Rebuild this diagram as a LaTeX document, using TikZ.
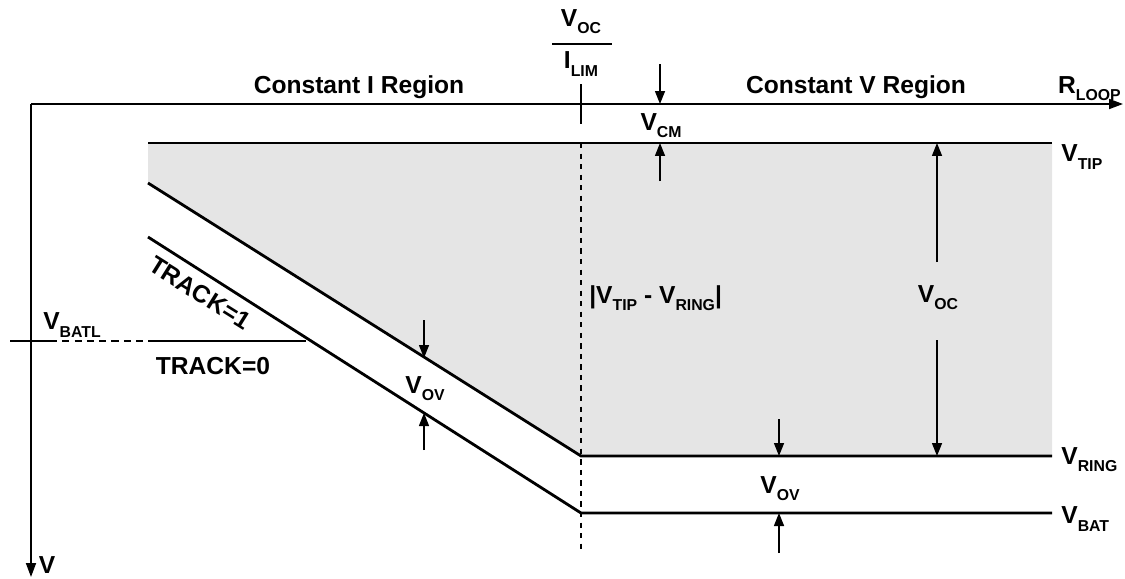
\documentclass[tikz,border=0pt]{standalone}
\usepackage{fontspec}
\setmainfont{Liberation Sans}
\usetikzlibrary{arrows.meta}
\newcommand{\vsub}[2]{#1\raisebox{-0.55ex}{\fontsize{9}{10}\selectfont #2}}

\begin{document}
\begin{tikzpicture}[x=0.02cm,y=-0.02cm,font=\bfseries\fontsize{14}{16}\selectfont]
\tikzset{
  curve/.style={line width=1.6pt},
  axis/.style={line width=1pt},
  dim/.style={line width=0.8pt,-{Triangle[length=2.6mm,width=2mm]}},
  lbl/.style={inner sep=0pt}
}
\useasboundingbox (0,0) rectangle (1125,578);
% key points of the window
\coordinate (tipL) at (148,143);
\coordinate (tipR) at (1052,143);
\coordinate (knee) at (148,183);
\coordinate (ringK) at (581,456);
\coordinate (ringR) at (1052,456);
\coordinate (batL) at (148,237);
\coordinate (batK) at (581,513);
\coordinate (batR) at (1052,513);
\coordinate (orig) at (31,104);

% shaded window
\fill[gray!20] (tipL) -- (tipR) -- (ringR) -- (ringK) -- (knee) -- cycle;

% axes
\draw[axis,-{Triangle[length=2.8mm,width=2mm]}] (orig) -- (1123,104);
\draw[axis,-{Triangle[length=2.8mm,width=2mm]}] (orig) -- (31,577);
\node[lbl] (vax) at (47,565) {V};
\node[lbl,anchor=east] (rloop) at (1121,89) {\vsub{R}{LOOP}};

% Voc/Ilim break point
\draw[axis] (581,84) -- (581,124);
\draw[line width=0.8pt,dashed] (581,143) -- (581,550);
\node[lbl] (voc) at (581,22) {\vsub{V}{OC}};
\draw[line width=0.8pt] (552,44) -- (612,44);
\node[lbl] (ilim) at (581,64) {\vsub{I}{LIM}};

\node[lbl] (regI) at (359,87) {Constant I Region};
\node[lbl] (regV) at (856,87) {Constant V Region};

% curves
\draw[curve] (tipL) -- (tipR);
\draw[curve] (knee) -- (ringK) -- (ringR);
\draw[curve] (batL) -- (batK) -- (batR);
\draw[curve] (148,341) -- (306,341);
\draw[axis] (10,341) -- (50,341);
\draw[line width=0.7pt,dash pattern=on 4pt off 3pt] (50,341) -- (148,341);

\node[lbl,anchor=west] (vtip) at (1061,157) {\vsub{V}{TIP}};
\node[lbl,anchor=west] (vring) at (1061,460) {\vsub{V}{RING}};
\node[lbl,anchor=west] (vbat) at (1061,519) {\vsub{V}{BAT}};
\node[lbl] (vbatl) at (72,325) {\vsub{V}{BATL}};
\node[lbl] (trk0) at (213,366) {TRACK=0};
\node[lbl,rotate=-32] (trk1) at (200,293) {TRACK=1};

% Vcm
\draw[dim] (660,64) -- (660,104);
\draw[dim] (660,181) -- (660,143);
\node[lbl] (vcm) at (661,126) {\vsub{V}{CM}};

% Voc span
\draw[dim] (937,262) -- (937,143);
\draw[dim] (937,340) -- (937,456);
\node[lbl] (vocm) at (938,298) {\vsub{V}{OC}};
\node[lbl,anchor=west] (vdiff) at (589,298) {|\vsub{V}{TIP} - \vsub{V}{RING}|};

% Vov, left
\draw[dim] (424,320) -- (424,358);
\draw[dim] (424,450) -- (424,413);
\node[lbl] (vovl) at (425,389) {\vsub{V}{OV}};

% Vov, right
\draw[dim] (779,419) -- (779,456);
\draw[dim] (779,553) -- (779,513);
\node[lbl] (vovr) at (780,489) {\vsub{V}{OV}};
\end{tikzpicture}
\end{document}
